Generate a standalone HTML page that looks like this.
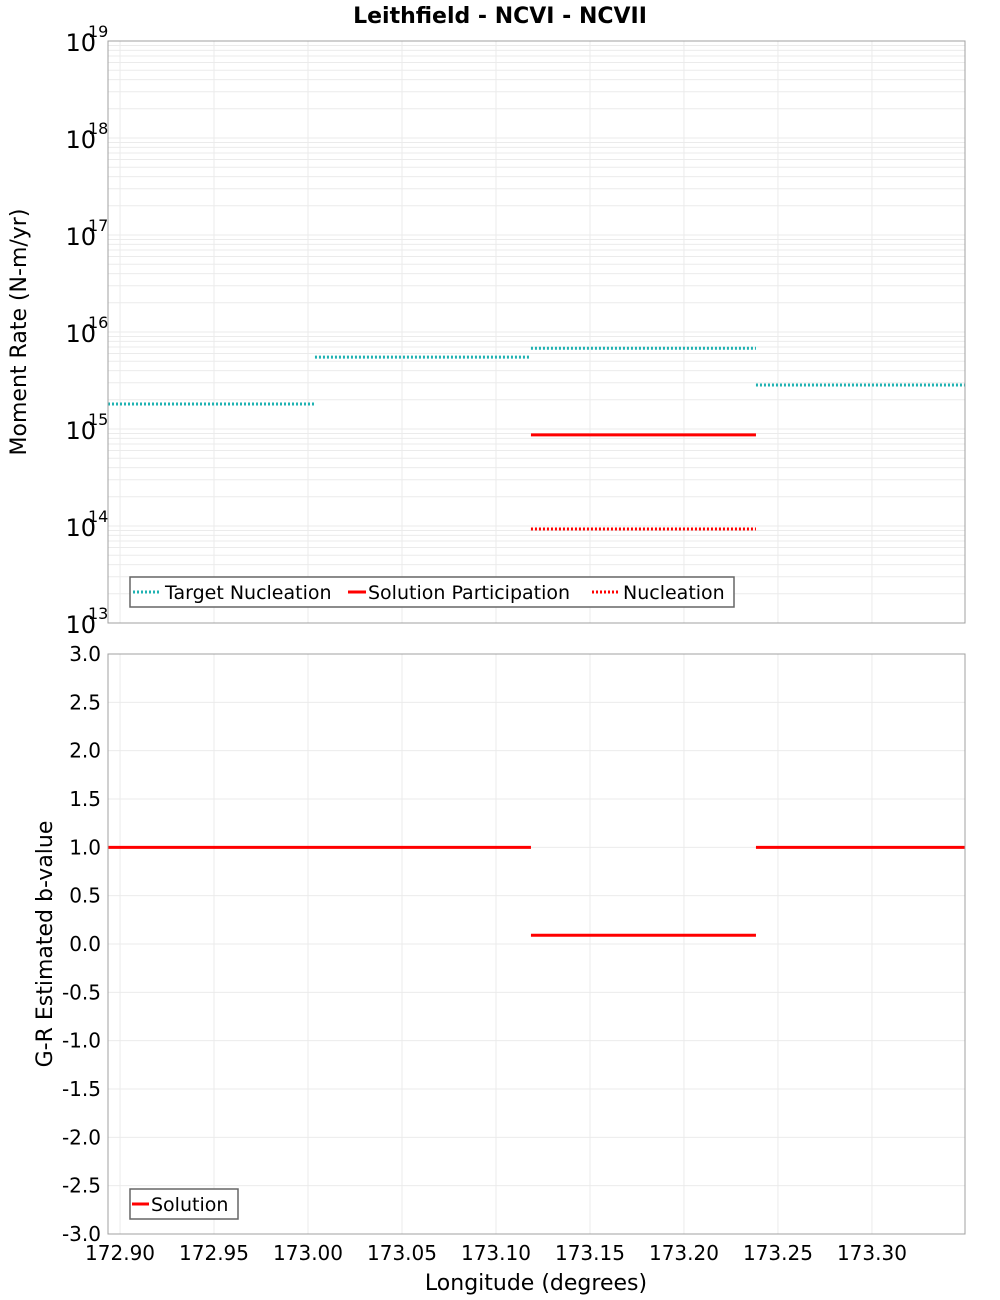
<!DOCTYPE html>
<html><head><meta charset="utf-8"><style>
body{margin:0;background:#fff;}
svg{display:block;font-family:"DejaVu Sans","Liberation Sans",sans-serif;}
</style></head><body>
<svg id="c" width="1000" height="1300" xmlns="http://www.w3.org/2000/svg">
<text x="500" y="23" text-anchor="middle" font-size="22" font-weight="bold">Leithfield - NCVI - NCVII</text>
<g id="topPanel"></g><g id="botPanel"></g>
<text transform="translate(26,332) rotate(-90)" text-anchor="middle" font-size="22">Moment Rate (N-m/yr)</text>
<text transform="translate(52,944) rotate(-90)" text-anchor="middle" font-size="22">G-R Estimated b-value</text>
<text x="536" y="1290" text-anchor="middle" font-size="22">Longitude (degrees)</text>
</svg>
<script>
const xTicks=[172.90,172.95,173.00,173.05,173.10,173.15,173.20,173.25,173.30];
const segStart=[172.8936,173.0037,173.1186,173.2383];
const segEnd=[173.0037,173.1186,173.2383,173.3495];
const targetNucleation=[1.81e15,5.5e15,6.8e15,2.84e15];
const solSegIdx=[2];
const solutionParticipation=[8.7e14];
const nucleation=[9.3e13];
const bStart=[172.8936,173.1186,173.2383];
const bEnd=[173.1186,173.2383,173.3495];
const bValues=[1.0,0.09,1.0];
const bTicks=[3.0,2.5,2.0,1.5,1.0,0.5,0.0,-0.5,-1.0,-1.5,-2.0,-2.5,-3.0];
const decades=[13,14,15,16,17,18,19];

const NS="http://www.w3.org/2000/svg";
const L=108,R=965,T1=41,B1=623,T2=654,B2=1234,XMIN=172.8936,XMAX=173.3495;
const sx=v=>L+(v-XMIN)/(XMAX-XMIN)*(R-L);
const sy1=v=>B1-(Math.log10(v)-13)/6*(B1-T1);
const sy2=v=>B2-(v+3)/6*(B2-T2);
function mk(p,t,a){const e=document.createElementNS(NS,t);for(const k in a)e.setAttribute(k,a[k]);p.appendChild(e);return e;}
const gTop=document.getElementById('topPanel'),gBot=document.getElementById('botPanel');
[[gTop,T1,B1],[gBot,T2,B2]].forEach(([g,t,b])=>{mk(g,'rect',{x:L,y:t,width:R-L,height:b-t,fill:'#fff'});});
for(let d=13;d<19;d++){for(let m=1;m<10;m++){const y=sy1(m*Math.pow(10,d));
const l=mk(gTop,'line',{x1:L,x2:R,y1:y,y2:y,stroke:'#ebebeb','stroke-width':1});

}}
xTicks.forEach(v=>{const x=sx(v);[[gTop,T1,B1],[gBot,T2,B2]].forEach(([g,t,b])=>{
const l=mk(g,'line',{x1:x,x2:x,y1:t,y2:b,stroke:'#ebebeb'});

});
const tx=mk(gBot,'text',{x:x,y:1260,'text-anchor':'middle','font-size':20});tx.textContent=v.toFixed(2);

});
decades.forEach(d=>{const y=sy1(Math.pow(10,d));
const t=mk(gTop,'text',{x:96,y:y+10,'text-anchor':'end','font-size':24});t.textContent='10';


const s=mk(gTop,'text',{x:88,y:y-4,'font-size':16});s.textContent=String(d);

});
bTicks.forEach(v=>{const y=sy2(v);
const l=mk(gBot,'line',{x1:L,x2:R,y1:y,y2:y,stroke:'#ebebeb'});


const t=mk(gBot,'text',{x:101,y:y+7,'text-anchor':'end','font-size':20});t.textContent=v.toFixed(1);

});
targetNucleation.forEach((v,i)=>{const l=mk(gTop,'line',{x1:sx(segStart[i]),x2:sx(segEnd[i]),y1:sy1(v),y2:sy1(v),stroke:'#1fb2b2','stroke-width':3,'stroke-dasharray':'2,2'});

});
solutionParticipation.forEach((v,i)=>{const k=solSegIdx[i];const l=mk(gTop,'line',{x1:sx(segStart[k]),x2:sx(segEnd[k]),y1:sy1(v),y2:sy1(v),stroke:'#ff0000','stroke-width':3});

});
nucleation.forEach((v,i)=>{const k=solSegIdx[i];const l=mk(gTop,'line',{x1:sx(segStart[k]),x2:sx(segEnd[k]),y1:sy1(v),y2:sy1(v),stroke:'#ff0000','stroke-width':3,'stroke-dasharray':'2,2'});

});
bValues.forEach((v,i)=>{const l=mk(gBot,'line',{x1:sx(bStart[i]),x2:sx(bEnd[i]),y1:sy2(v),y2:sy2(v),stroke:'#ff0000','stroke-width':3});

});
mk(gTop,'rect',{x:L,y:T1,width:R-L,height:B1-T1,fill:'none',stroke:'#a0a0a0'});
mk(gBot,'rect',{x:L,y:T2,width:R-L,height:B2-T2,fill:'none',stroke:'#a0a0a0'});
const lg=mk(gTop,'g',{});


mk(lg,'rect',{x:130,y:577,width:604,height:30,fill:'#fff',stroke:'#666','stroke-width':1.5});
mk(lg,'line',{x1:133,x2:161,y1:592,y2:592,stroke:'#1fb2b2','stroke-width':3,'stroke-dasharray':'2,2'});
let t=mk(lg,'text',{x:165,y:599,'font-size':19});t.textContent='Target Nucleation';
mk(lg,'line',{x1:348,x2:366,y1:592,y2:592,stroke:'#ff0000','stroke-width':3});
t=mk(lg,'text',{x:368,y:599,'font-size':19});t.textContent='Solution Participation';
mk(lg,'line',{x1:592,x2:619,y1:592,y2:592,stroke:'#ff0000','stroke-width':3,'stroke-dasharray':'2,2'});
t=mk(lg,'text',{x:623,y:599,'font-size':19});t.textContent='Nucleation';
const lg2=mk(gBot,'g',{});


mk(lg2,'rect',{x:130,y:1189,width:108,height:30,fill:'#fff',stroke:'#666','stroke-width':1.5});
mk(lg2,'line',{x1:132,x2:149,y1:1204,y2:1204,stroke:'#ff0000','stroke-width':3});
t=mk(lg2,'text',{x:151,y:1211,'font-size':19});t.textContent='Solution';
</script>
</body></html>
